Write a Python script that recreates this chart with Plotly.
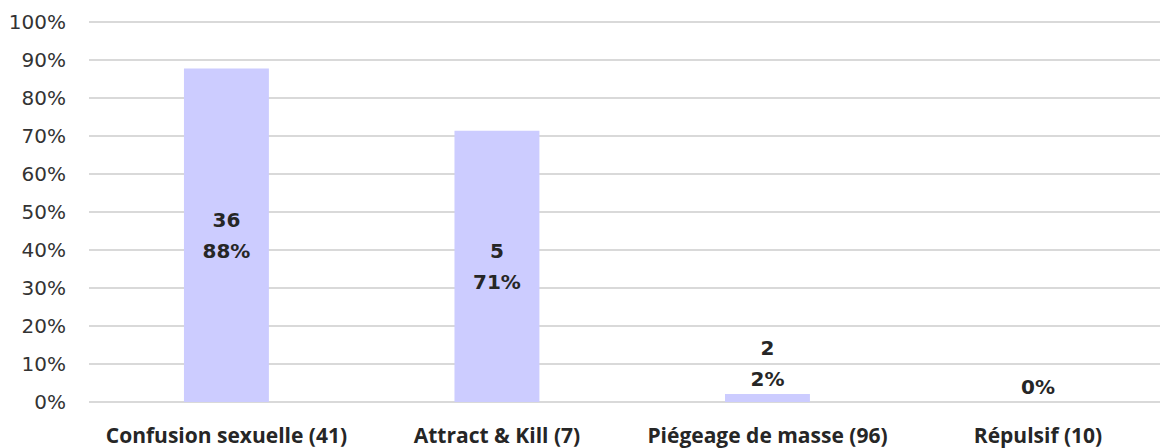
import plotly.graph_objects as go

categories = ["Confusion sexuelle (41)", "Attract & Kill (7)", "Piégeage de masse (96)", "Répulsif (10)"]
counts = [36, 5, 2, 0]
shares = [0.878, 0.714, 0.021, 0.0]
positions = ["inside", "inside", "outside", "outside"]
y_ticks = [i / 10 for i in range(11)]

SPAN = "<span style='font-size:20px'>{}</span>"
labels = []
for c, s in zip(counts, shares):
    pct = f"{round(s * 100):.0f}%"
    if c:
        labels.append(SPAN.format(c) + "<br>" + SPAN.format(pct))
    else:
        labels.append(SPAN.format(pct))

fig = go.Figure(
    go.Bar(
        x=list(range(len(categories))),
        y=shares,
        width=0.314,
        marker=dict(color="#ccccff", line=dict(width=0)),
        text=labels,
        textposition=positions,
        insidetextanchor="middle",
        textfont=dict(family="DejaVu Sans", size=24, color="#262626", weight="bold"),
        constraintext="none",
        cliponaxis=False,
        hoverinfo="skip",
    )
)

fig.update_layout(
    width=1160,
    height=448,
    margin=dict(l=89, r=0, t=21, b=46),
    plot_bgcolor="white",
    paper_bgcolor="white",
    showlegend=False,
    xaxis=dict(
        range=[-0.508, 3.451],
        tickmode="array",
        tickvals=list(range(len(categories))),
        ticktext=categories,
        tickfont=dict(family="Open Sans", size=21, color="#262626", weight="bold"),
        showgrid=False,
        zeroline=False,
        showline=False,
        ticks="",
        ticklabelstandoff=19,
        automargin=False,
    ),
    yaxis=dict(
        range=[0, 1.003],
        tickvals=y_ticks,
        tickformat=".0%",
        tickfont=dict(family="DejaVu Sans", size=20, color="#333333"),
        showgrid=True,
        gridcolor="#d9d9d9",
        gridwidth=1.5,
        zeroline=True,
        zerolinecolor="#d9d9d9",
        zerolinewidth=1.5,
        showline=False,
        ticks="",
        ticklabelstandoff=22,
        automargin=False,
    ),
)

fig.write_html(
    "out.html",
    config={"displayModeBar": False},
    post_script="document.body.style.margin='0';document.body.style.overflow='hidden';",
)
